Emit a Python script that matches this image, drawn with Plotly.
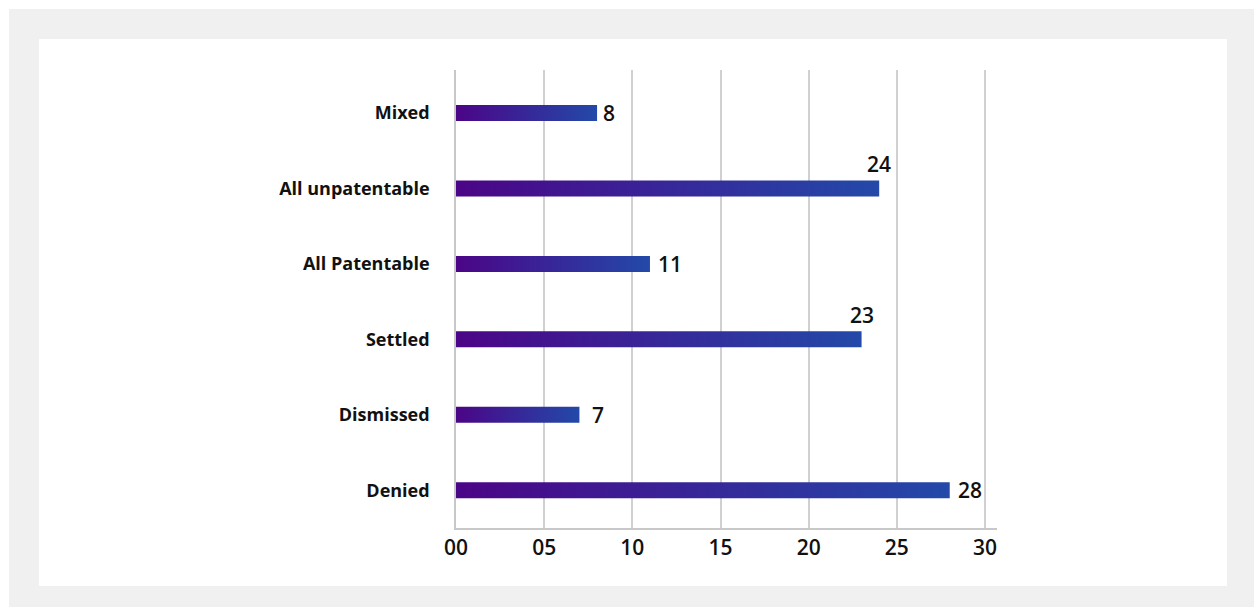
import plotly.graph_objects as go

categories = ["Denied", "Dismissed", "Settled", "All Patentable", "All unpatentable", "Mixed"]
values = [28, 7, 23, 11, 24, 8]
x_ticks = [0, 5, 10, 15, 20, 25, 30]
x_tick_labels = ["00", "05", "10", "15", "20", "25", "30"]

# label placement style: "right" = beside bar end, "top" = above bar end
label_style = {"Denied": ("right", 6), "Dismissed": ("right", 11), "Settled": ("top", 0),
               "All Patentable": ("right", 6), "All unpatentable": ("top", 0), "Mixed": ("right", 4)}

C0, C1 = "#4b0587", "#2349a9"
HALF = 0.106

W, H = 1254, 607
L, R, T, B = 456, 997, 70, 528

fig = go.Figure()
for i, (cat, v) in enumerate(zip(categories, values)):
    fig.add_trace(go.Scatter(
        x=[0, v, v, 0, 0], y=[i - HALF, i - HALF, i + HALF, i + HALF, i - HALF],
        mode="lines", line=dict(width=0), fill="toself",
        fillgradient=dict(type="horizontal", colorscale=[[0, C0], [1, C1]]),
        hoverinfo="skip", showlegend=False))

ann = []
for i, (cat, v) in enumerate(zip(categories, values)):
    kind, sh = label_style[cat]
    if kind == "right":
        ann.append(dict(x=v, y=i, text=str(v), showarrow=False, xanchor="left", yanchor="middle",
                        xshift=sh, font=dict(size=21, color="#111", family="Open Sans", weight=600)))
    else:
        ann.append(dict(x=v, y=i + HALF, text=str(v), showarrow=False, xanchor="center", yanchor="bottom",
                        yshift=0, font=dict(size=21, color="#111", family="Open Sans", weight=600)))

xr = 30 * (R - L) / (985 - L)
yr0, yr1 = -0.5, 5.57

fig.update_layout(
    width=W, height=H,
    margin=dict(l=L, r=W - R, t=T, b=H - B, pad=0),
    paper_bgcolor="white", plot_bgcolor="white",
    annotations=ann,
    shapes=[
        dict(type="rect", xref="paper", yref="paper", layer="below",
             x0=(9 - L) / (R - L), x1=(W + 5 - L) / (R - L),
             y0=(B - H - 5) / (B - T), y1=(B - 9) / (B - T),
             fillcolor="#f0f0f0", line=dict(width=0)),
        dict(type="rect", xref="paper", yref="paper", layer="below",
             x0=(39 - L) / (R - L), x1=(1227 - L) / (R - L),
             y0=(B - 586) / (B - T), y1=(B - 39) / (B - T),
             fillcolor="white", line=dict(width=0)),
    ],
    xaxis=dict(range=[0, xr], tickvals=x_ticks, ticktext=x_tick_labels,
               showgrid=True, gridcolor="#d0d0d0", gridwidth=1.5,
               showline=True, linecolor="#c8c8c8", linewidth=1.5, zeroline=False,
               ticks="", ticklabelstandoff=0,
               tickfont=dict(size=21, color="#111", family="Open Sans", weight=600)),
    yaxis=dict(range=[yr0, yr1], tickvals=list(range(len(categories))), ticktext=categories,
               showgrid=False, showline=True, linecolor="#c8c8c8", linewidth=1.5, zeroline=False,
               ticks="", ticklabelstandoff=21,
               tickfont=dict(size=18, color="#111", family="Open Sans", weight=700)),
)

fig.write_html("out.html", config={"displayModeBar": False},
               post_script="document.body.style.margin='0px';document.body.style.overflow='hidden';")
